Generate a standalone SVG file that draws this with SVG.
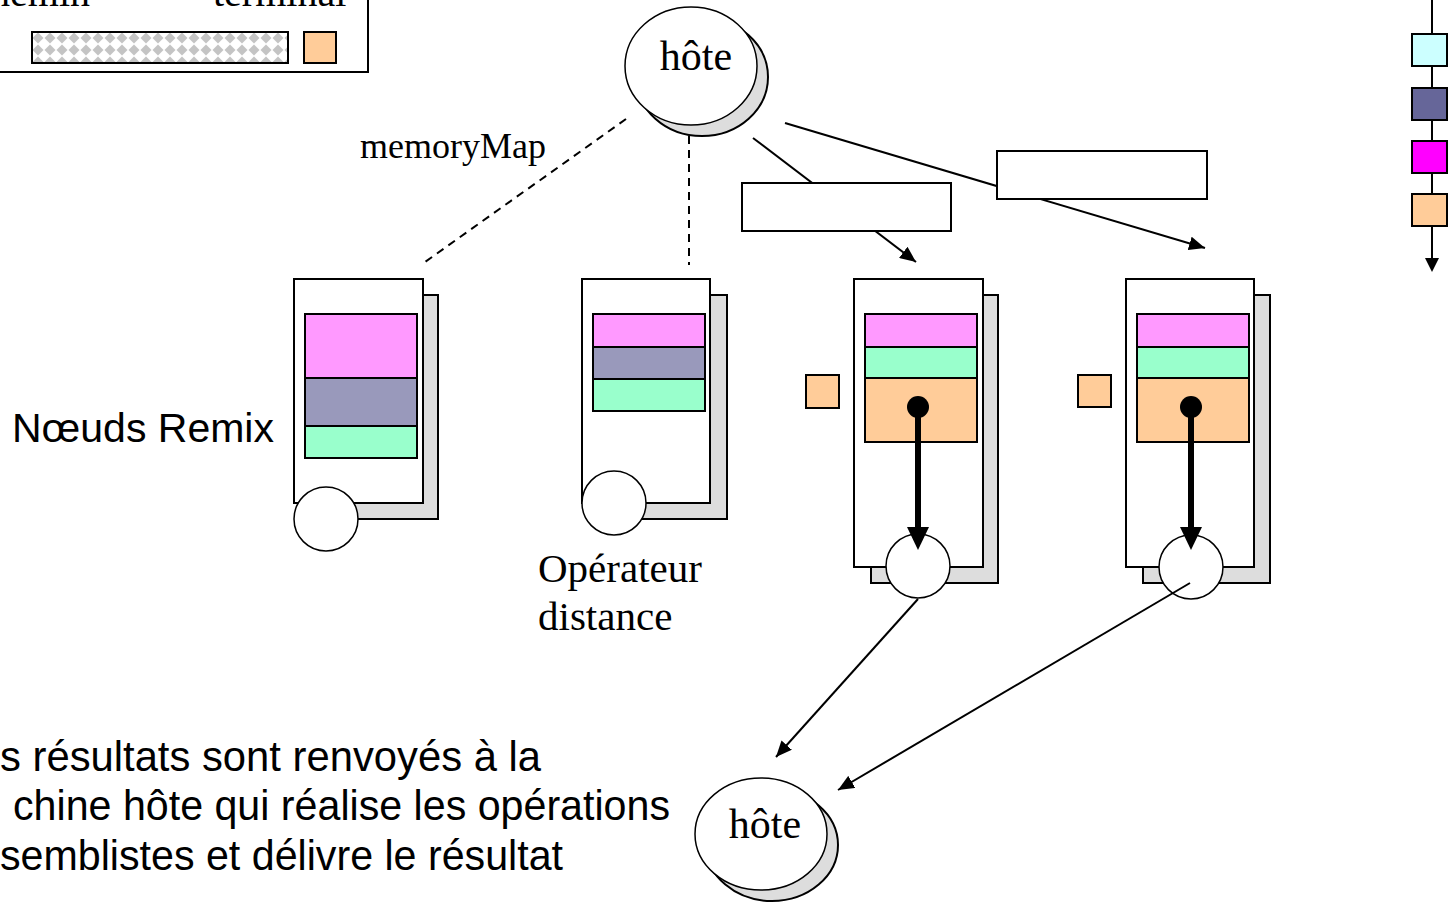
<svg xmlns="http://www.w3.org/2000/svg" width="1451" height="905" viewBox="0 0 1451 905">
<defs>
<style>
.bx{fill:#fff;stroke:#000;stroke-width:2}
.sh{fill:#dddddd;stroke:#000;stroke-width:2}
.c{fill:#fff;stroke:#000;stroke-width:1.5}
.pk{fill:#ff99ff;stroke:#000;stroke-width:2}
.gy{fill:#9999bb;stroke:#000;stroke-width:2}
.gr{fill:#99ffcc;stroke:#000;stroke-width:2}
.or{fill:#ffcc99;stroke:#000;stroke-width:2}
.ln{fill:none;stroke:#000;stroke-width:2}
.dl{fill:none;stroke:#000;stroke-width:2;stroke-dasharray:8 6}
.tr{font-family:"Liberation Serif","Times New Roman",serif;fill:#000}
.ar{font-family:"Liberation Sans",Arial,sans-serif;fill:#000}
</style>
<pattern id="chk" x="32" y="32" width="12" height="12" patternUnits="userSpaceOnUse">
<rect width="12" height="12" fill="#fff"/>
<polygon points="6,0.5 11.5,6 6,11.5 0.5,6" fill="#c4c4c4"/>
</pattern>
<marker id="ah" markerUnits="userSpaceOnUse" markerWidth="18" markerHeight="14" refX="16" refY="7" orient="auto">
<polygon points="0,0 16,7 0,14" fill="#000"/>
</marker>
</defs>

<g id="legend-left">
<rect x="-10" y="-10" width="378" height="82" fill="#fff" stroke="#000" stroke-width="2"/>
<text class="tr" x="90" y="6" font-size="40" text-anchor="end">chemin</text>
<text class="tr" x="213" y="6" font-size="40">terminal</text>
<rect x="32" y="32" width="256" height="31" fill="url(#chk)" stroke="#000" stroke-width="2"/>
<rect class="or" x="304" y="32" width="32" height="31"/>
</g>

<g id="legend-right">
<line class="ln" x1="1432" y1="0" x2="1432" y2="259"/>
<polygon points="1425,258 1439,258 1432,272" fill="#000"/>
<rect x="1412" y="34" width="35" height="32" fill="#ccffff" stroke="#000" stroke-width="2"/>
<rect x="1412" y="88" width="35" height="32" fill="#666699" stroke="#000" stroke-width="2"/>
<rect x="1412" y="141" width="35" height="32" fill="#ff00ff" stroke="#000" stroke-width="2"/>
<rect x="1412" y="194" width="35" height="32" fill="#ffcc99" stroke="#000" stroke-width="2"/>
</g>

<g id="connectors">
<line class="dl" x1="626" y1="119" x2="425" y2="262"/>
<line class="dl" x1="689" y1="136" x2="689" y2="265"/>
<line class="ln" x1="753" y1="138" x2="916" y2="262" marker-end="url(#ah)"/>
<line class="ln" x1="785" y1="123" x2="1205" y2="248" marker-end="url(#ah)"/>
</g>

<g id="host-top">
<ellipse class="sh" cx="702" cy="77" rx="66" ry="59"/>
<ellipse class="c" cx="691" cy="66" rx="66" ry="59"/>
<text class="tr" x="696" y="70" font-size="42" text-anchor="middle">hôte</text>
</g>

<g id="label-memorymap">
<text class="tr" x="360" y="158" font-size="36">memoryMap</text>
</g>

<g id="box-1"><rect class="bx" x="742" y="183" width="209" height="48"/></g>
<g id="box-2"><rect class="bx" x="997" y="151" width="210" height="48"/></g>

<g id="label-noeuds">
<text class="ar" x="12" y="442" font-size="41">Nœuds Remix</text>
</g>

<g id="node-1">
<rect class="sh" x="310" y="295" width="128" height="224"/>
<rect class="bx" x="294" y="279" width="129" height="224"/>
<rect class="pk" x="305" y="314" width="112" height="64"/>
<rect class="gy" x="305" y="378" width="112" height="48"/>
<rect class="gr" x="305" y="426" width="112" height="32"/>
<circle class="c" cx="326" cy="519" r="32"/>
</g>

<g id="node-2">
<rect class="sh" x="598" y="295" width="129" height="224"/>
<rect class="bx" x="582" y="279" width="128" height="224"/>
<rect class="pk" x="593" y="314" width="112" height="33"/>
<rect class="gy" x="593" y="347" width="112" height="32"/>
<rect class="gr" x="593" y="379" width="112" height="32"/>
<circle class="c" cx="614" cy="503" r="32"/>
</g>

<g id="label-operateur">
<text class="tr" x="538" y="582" font-size="41">Opérateur</text>
<text class="tr" x="538" y="630" font-size="41">distance</text>
</g>

<g id="node-3">
<rect class="or" x="806" y="375" width="33" height="33"/>
<rect class="sh" x="871" y="295" width="127" height="288"/>
<rect class="bx" x="854" y="279" width="129" height="288"/>
<rect class="pk" x="865" y="314" width="112" height="33"/>
<rect class="gr" x="865" y="347" width="112" height="31"/>
<rect class="or" x="865" y="378" width="112" height="64"/>
<circle class="c" cx="918" cy="566" r="32"/>
<circle cx="918" cy="407" r="11" fill="#000"/>
<line x1="918" y1="407" x2="918" y2="530" stroke="#000" stroke-width="6"/>
<polygon points="907,527 929,527 918,550" fill="#000"/>
</g>

<g id="node-4">
<rect class="or" x="1078" y="375" width="33" height="32"/>
<rect class="sh" x="1143" y="295" width="127" height="288"/>
<rect class="bx" x="1126" y="279" width="128" height="288"/>
<rect class="pk" x="1137" y="314" width="112" height="33"/>
<rect class="gr" x="1137" y="347" width="112" height="31"/>
<rect class="or" x="1137" y="378" width="112" height="64"/>
<circle class="c" cx="1191" cy="567" r="32"/>
<circle cx="1191" cy="407" r="11" fill="#000"/>
<line x1="1191" y1="407" x2="1191" y2="530" stroke="#000" stroke-width="6"/>
<polygon points="1180,527 1202,527 1191,550" fill="#000"/>
</g>

<g id="connectors-return">
<line class="ln" x1="918" y1="599" x2="776" y2="757" marker-end="url(#ah)"/>
<line class="ln" x1="1190" y1="583" x2="838" y2="790" marker-end="url(#ah)"/>
</g>

<g id="host-bottom">
<ellipse class="sh" cx="772" cy="845" rx="66" ry="56"/>
<ellipse class="c" cx="761" cy="834" rx="66" ry="56"/>
<text class="tr" x="765" y="838" font-size="42" text-anchor="middle">hôte</text>
</g>

<g id="label-resultats">
<text class="ar" x="0" y="771" font-size="42" textLength="541" lengthAdjust="spacingAndGlyphs">s résultats sont renvoyés à la</text>
<text class="ar" x="13" y="820" font-size="42" textLength="657" lengthAdjust="spacingAndGlyphs">chine hôte qui réalise les opérations</text>
<text class="ar" x="0" y="870" font-size="42" textLength="563" lengthAdjust="spacingAndGlyphs">semblistes et délivre le résultat</text>
</g>
</svg>
